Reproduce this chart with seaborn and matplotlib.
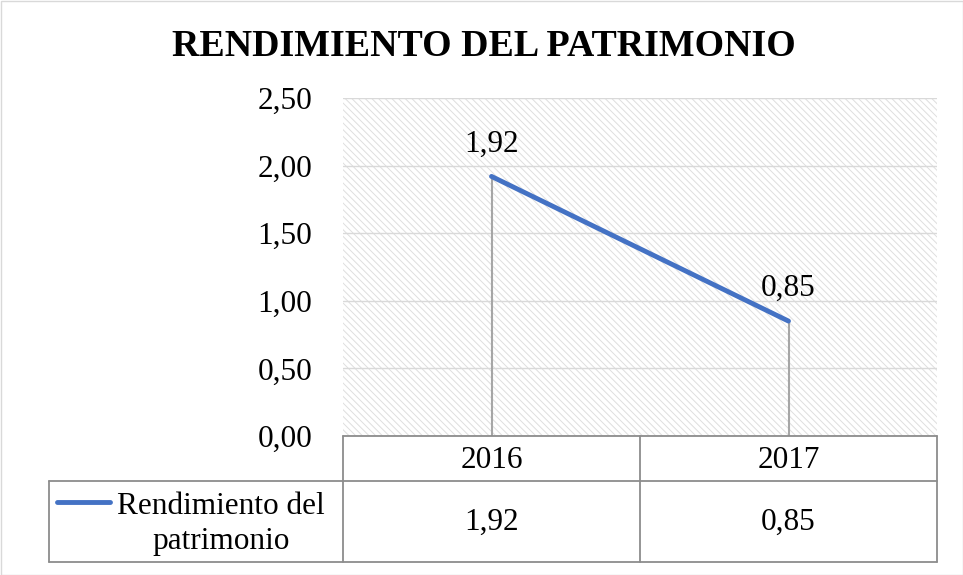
import matplotlib
matplotlib.use("Agg")
import matplotlib.pyplot as plt
import seaborn as sns
import pandas as pd
from matplotlib.patches import Rectangle
import matplotlib.transforms as mtransforms

# data
years = ["2016", "2017"]
values = [1.92, 0.85]
series_name = "Rendimiento del patrimonio"
yticks = [0.0, 0.5, 1.0, 1.5, 2.0, 2.5]
title = "RENDIMIENTO DEL PATRIMONIO"

def fmt(v):
    return f"{v:.2f}".replace(".", ",")

sns.set_style("white")
plt.rcParams["font.family"] = ["Liberation Serif", "DejaVu Serif"]
plt.rcParams["hatch.linewidth"] = 0.7
plt.rcParams["text.color"] = "black"
plt.rcParams["ytick.color"] = "black"
plt.rcParams["ytick.labelcolor"] = "black"

FS = 22.5

W, H = 963, 575
fig = plt.figure(figsize=(W / 100, H / 100), dpi=100)

def fx(px):
    return px / W

def fy(py):
    return 1 - py / H

x0, x1, ytop, ybot = 343, 937, 98, 436
ax = fig.add_axes([fx(x0), fy(ybot), fx(x1) - fx(x0), fy(ytop) - fy(ybot)])

df = pd.DataFrame({"year": years, "value": values})
df["pos"] = range(len(years))

# hatched background
ax.add_patch(Rectangle((0, 0), 1, 1, transform=ax.transAxes, facecolor="white",
                       edgecolor="#dedede", hatch="\\\\\\\\\\", linewidth=0, zorder=0))
for t in yticks:
    ax.axhline(t, color="#d9d9d9", lw=1.0, zorder=1)

# drop lines
for p, v in zip(df["pos"], df["value"]):
    ax.plot([p, p], [0, v], color="#a6a6a6", lw=1.5, zorder=2)

sns.lineplot(data=df, x="pos", y="value", ax=ax, color="#4472C4", lw=3.5, zorder=3,
             solid_capstyle="round")

for p, v in zip(df["pos"], df["value"]):
    ax.annotate(fmt(v), (p, v), xytext=(0, 13), textcoords="offset points",
                ha="center", va="bottom", fontsize=FS, color="black")

ax.set_xlim(-0.5, len(years) - 0.5)
ax.set_ylim(0, 2.5)
ax.set_yticks(yticks)
ax.set_yticklabels([fmt(t) for t in yticks], fontsize=FS, color="black")
ax.tick_params(axis="y", length=0, pad=22)
ax.set_xticks([])
ax.set_xlabel("")
ax.set_ylabel("")
for s in ax.spines.values():
    s.set_visible(False)

# data table below
tcol = "#8c8c8c"
r1, r2, r3 = 436, 481, 562
lx = 49
def hline(y, xa, xb):
    fig.add_artist(plt.Line2D([fx(xa), fx(xb)], [fy(y), fy(y)], color=tcol, lw=1.3))
def vline(x, ya, yb):
    fig.add_artist(plt.Line2D([fx(x), fx(x)], [fy(ya), fy(yb)], color=tcol, lw=1.3))

hline(r1, x0, x1)
hline(r2, lx, x1)
hline(r3, lx, x1)
vline(lx, r2, r3)
xm = (x0 + x1) / 2
vline(x0, r1, r3)
vline(xm, r1, r3)
vline(x1, r1, r3)

blend = mtransforms.blended_transform_factory(ax.transData, fig.transFigure)
for p, yr, v in zip(df["pos"], years, values):
    fig.text(p, fy((r1 + r2) / 2 + 2), yr, transform=blend, ha="center", va="center", fontsize=FS)
    fig.text(p, fy((r2 + r3) / 2 + 1), fmt(v), transform=blend, ha="center", va="center", fontsize=FS)

# legend key in table
fig.add_artist(plt.Line2D([fx(57), fx(110)], [fy(502), fy(502)], color="#4472C4", lw=3.5,
                          solid_capstyle="round"))
fig.text(fx(221), fy(524), "Rendimiento del\npatrimonio", ha="center", va="center",
         multialignment="center", fontsize=FS, linespacing=1.3)

fig.text(fx(484), fy(46), title, ha="center", va="center", fontsize=27.3, fontweight="bold")

fig.add_artist(Rectangle((0.5 / W, 0.5 / H), 1 - 1 / W, 1 - 1 / H, transform=fig.transFigure,
                         fill=False, edgecolor="#d9d9d9", lw=1))

fig.savefig("out.png", dpi=100)
